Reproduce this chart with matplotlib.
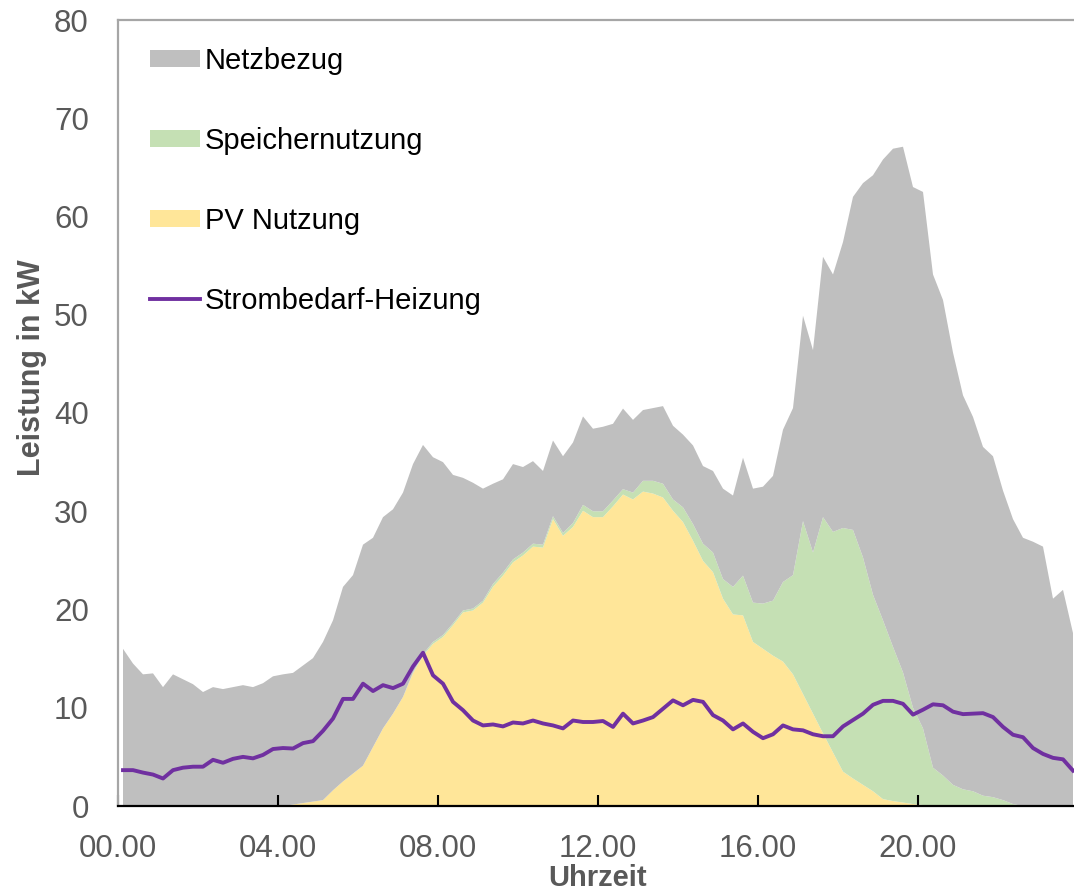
import numpy as np
import matplotlib.pyplot as plt

# 15-Minuten-Werte (96 Intervalle) in kW
pv_nutzung = [
    0, 0, 0, 0, 0, 0, 0, 0, 0, 0, 0, 0, 0, 0, 0, 0,
    0.0, 0.15, 0.3, 0.45, 0.6, 1.6, 2.5, 3.3, 4.1, 6.0, 7.9, 9.4, 11.1, 13.5, 15.3, 16.5,
    17.2, 18.4, 19.7, 19.9, 20.7, 22.3, 23.45, 24.8, 25.5, 26.4, 26.3, 29.2, 27.5, 28.4, 30.05, 29.4,
    29.4, 30.5, 31.7, 31.2, 32.0, 31.8, 31.4, 30.05, 28.9, 27.0, 24.95, 23.8, 21.1, 19.5, 19.4, 16.7,
    16.0, 15.3, 14.7, 13.4, 11.4, 9.4, 7.4, 5.45, 3.5, 2.8, 2.15, 1.5, 0.7, 0.5, 0.35, 0.2,
    0.1, 0, 0, 0, 0, 0, 0, 0, 0, 0, 0, 0, 0, 0, 0, 0,
]
speichernutzung = [
    0, 0, 0, 0, 0, 0, 0, 0, 0, 0, 0, 0, 0, 0, 0, 0,
    0, 0, 0, 0, 0, 0, 0, 0, 0, 0, 0, 0, 0, 0.1, 0.15, 0.2,
    0.2, 0.2, 0.2, 0.2, 0.2, 0.3, 0.3, 0.3, 0.3, 0.3, 0.3, 0.3, 0.3, 0.4, 0.6, 0.6,
    0.6, 0.6, 0.55, 0.7, 1.1, 1.3, 1.4, 1.15, 1.5, 1.7, 1.75, 2.0, 2.0, 2.8, 4.05, 4.0,
    4.6, 5.6, 8.1, 10.1, 17.6, 16.4, 22.0, 22.45, 24.8, 25.3, 23.15, 20.0, 18.2, 15.7, 13.25, 9.8,
    7.8, 3.9, 3.1, 2.15, 1.7, 1.5, 1.05, 0.9, 0.6, 0.2, 0, 0, 0, 0, 0, 0,
]
netzbezug = [
    16.0, 14.5, 13.4, 13.5, 12.1, 13.4, 12.9, 12.4, 11.6, 12.1, 11.9, 12.1, 12.3, 12.1, 12.5, 13.2,
    13.4, 13.4, 14.0, 14.6, 16.1, 17.3, 19.8, 20.2, 22.5, 21.3, 21.5, 20.8, 20.8, 21.2, 21.3, 18.8,
    17.6, 15.1, 13.5, 12.8, 11.4, 10.2, 9.5, 9.7, 8.7, 8.4, 7.5, 7.7, 7.8, 8.2, 9.0, 8.4,
    8.6, 7.8, 8.2, 7.4, 7.2, 7.4, 7.9, 7.5, 7.4, 8.0, 7.9, 8.3, 9.2, 9.3, 12.0, 11.6,
    11.9, 12.7, 15.5, 17.0, 20.9, 20.6, 26.5, 26.2, 29.1, 33.9, 38.1, 42.7, 46.9, 50.7, 53.5, 53.0,
    54.6, 50.2, 48.4, 44.0, 40.1, 38.1, 35.5, 34.7, 31.5, 29.0, 27.3, 26.9, 26.4, 21.1, 22.0, 17.6,
]
heizung = [
    3.65, 3.65, 3.4, 3.2, 2.8, 3.65, 3.9, 4.0, 4.0, 4.7, 4.4, 4.8, 5.0, 4.85, 5.2, 5.8,
    5.9, 5.85, 6.4, 6.6, 7.65, 8.9, 10.9, 10.9, 12.45, 11.7, 12.3, 12.0, 12.45, 14.2, 15.6, 13.3,
    12.45, 10.6, 9.75, 8.7, 8.2, 8.3, 8.1, 8.5, 8.4, 8.7, 8.4, 8.2, 7.9, 8.7, 8.55, 8.55,
    8.65, 8.05, 9.4, 8.4, 8.7, 9.05, 9.9, 10.75, 10.25, 10.8, 10.6, 9.25, 8.7, 7.8, 8.4, 7.55,
    6.9, 7.3, 8.2, 7.8, 7.7, 7.3, 7.1, 7.1, 8.1, 8.75, 9.4, 10.3, 10.7, 10.7, 10.4, 9.3,
    9.8, 10.35, 10.25, 9.6, 9.35, 9.4, 9.45, 9.05, 8.05, 7.25, 7.0, 5.9, 5.3, 4.9, 4.75, 3.6,
]
tick_labels = ["00.00", "04.00", "08.00", "12.00", "16.00", "20.00"]

# Intervallmitten in Stunden
stunden = np.arange(len(heizung)) * 0.25 + 0.125

plt.rcParams['font.family'] = ['Liberation Sans', 'DejaVu Sans']

fig = plt.figure(figsize=(10.74, 8.92), dpi=100)
ax = fig.add_axes([118 / 1074, 86 / 892, 960 / 1074, 786 / 892])

farben = ['#FFE699', '#C5E0B4', '#BFBFBF']
flaechen = ax.stackplot(stunden, pv_nutzung, speichernutzung, netzbezug,
                        colors=farben, linewidth=0,
                        labels=['PV Nutzung', 'Speichernutzung', 'Netzbezug'])
linie, = ax.plot(stunden, heizung, color='#7030A0', linewidth=2.8,
                 label='Strombedarf-Heizung')

ax.set_xlim(0, 24)
ax.set_ylim(0, 80)
ax.set_xticks(range(0, 24, 4))
ax.set_xticklabels(tick_labels)
ax.set_yticks(range(0, 81, 10))

ax.tick_params(axis='x', direction='in', length=8, width=1.5, color='black',
               labelsize=22.5, labelcolor='#595959', pad=20)
ax.tick_params(axis='y', length=0, labelsize=22.5, labelcolor='#595959', pad=21)

for seite in ['left', 'top']:
    ax.spines[seite].set_color('#A6A6A6')
    ax.spines[seite].set_linewidth(1.6)
ax.spines['right'].set_visible(False)
ax.spines['bottom'].set_color('black')
ax.spines['bottom'].set_linewidth(1.6)

ax.set_xlabel("Uhrzeit", fontsize=21, fontweight='bold', color='#595959')
ax.xaxis.set_label_coords(0.5, -0.0738)
ax.set_ylabel("Leistung in kW", fontsize=22, fontweight='bold', color='#595959')
ax.yaxis.set_label_coords(-0.074, 0.558)

handles = [flaechen[2], flaechen[1], flaechen[0], linie]
ax.legend(handles=handles, labels=[h.get_label() for h in handles],
          loc='upper left', bbox_to_anchor=(150 / 1074, 1 - 47 / 892),
          bbox_transform=fig.transFigure, frameon=False, fontsize=21,
          handlelength=1.71, handleheight=0.55, handletextpad=0.17,
          labelspacing=1.78, borderpad=0, borderaxespad=0)

plt.savefig("out.png", dpi=100)
plt.close()
